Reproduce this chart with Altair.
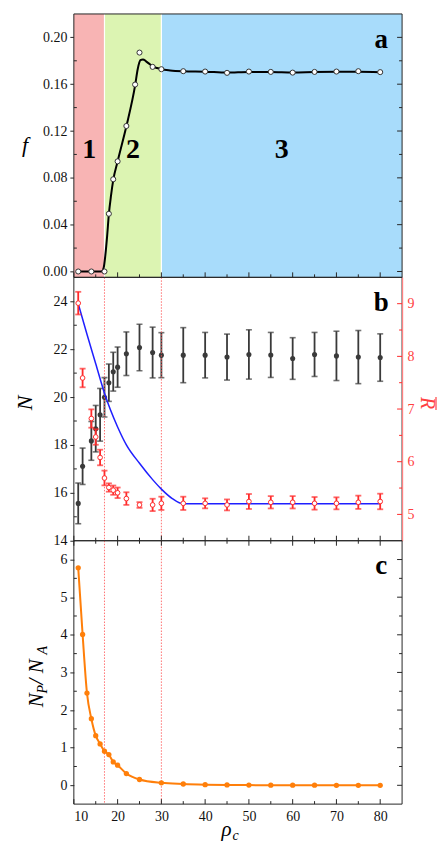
import altair as alt
import pandas as pd

FONT = "Liberation Serif"
W, H = 329, 264
INK = "#262626"
GREY = "#3a3a3a"
RED = "#FF2A2A"
RED_AXIS = "#FF8080"
BLUE = "#1F1FFF"
ORANGE = "#FF7F0A"
REGION_COLORS = ["#F8B4B4", "#DCF4B2", "#A8DCFB"]

# ---------------- data ----------------
region_names = ["1", "2", "3"]
region_start = [10, 17, 30]
region_end = [17, 30, 85]
boundaries = region_end[:-1]

# panel a : f
f_x = [11, 14, 17, 18, 19, 20, 22, 24, 25, 28, 30, 35, 40, 45, 50, 55, 60, 65, 70, 75, 80]
f_val = [0.0, 0.0, 0.0, 0.0493, 0.0788, 0.0941, 0.1243, 0.1597, 0.1870, 0.1748, 0.1728,
         0.1711, 0.1708, 0.1697, 0.1708, 0.1705, 0.1699, 0.1705, 0.1708, 0.1711, 0.1703]
fit_x = [11, 16.3, 16.8, 17.2, 17.6, 18, 18.5, 19, 20, 22, 24, 24.6, 25.2, 25.8, 26.5,
         27.3, 28, 29, 30, 32, 35, 40, 45, 50, 55, 60, 65, 70, 75, 80]
fit_val = [0, 0, 0.003, 0.014, 0.030, 0.049, 0.065, 0.078, 0.094, 0.124, 0.159, 0.173,
           0.1805, 0.1812, 0.1795, 0.1772, 0.1752, 0.1738, 0.1728, 0.1718, 0.1711, 0.1707,
           0.1699, 0.1704, 0.1704, 0.1700, 0.1704, 0.1706, 0.1707, 0.1703]

# panel b : N (left) and R-bar (right)
b_x = [11, 12, 14, 15, 16, 17, 18, 19, 20, 22, 25, 28, 30, 35, 40, 45, 50, 55, 60, 65, 70, 75, 80]
n_mean = [15.56, 17.11, 18.17, 18.68, 19.26, 19.99, 20.60, 21.06, 21.25, 21.81, 22.07, 21.86,
          21.75, 21.75, 21.75, 21.67, 21.78, 21.76, 21.61, 21.78, 21.72, 21.67, 21.65]
n_err = [0.85, 0.76, 0.81, 0.97, 1.10, 0.82, 0.78, 0.81, 0.84, 0.91, 0.97, 1.06, 0.94, 1.15,
         0.95, 0.96, 1.03, 0.94, 0.87, 0.92, 1.03, 1.11, 0.99]
r_mean = [9.01, 7.59, 6.82, 6.47, 6.08, 5.69, 5.51, 5.46, 5.41, 5.30, 5.18, 5.18, 5.21, 5.21,
          5.21, 5.18, 5.245, 5.23, 5.23, 5.21, 5.21, 5.23, 5.245]
r_err = [0.215, 0.177, 0.174, 0.148, 0.148, 0.139, 0.079, 0.088, 0.10, 0.12, 0.054, 0.117,
         0.126, 0.126, 0.095, 0.104, 0.142, 0.117, 0.117, 0.12, 0.114, 0.126, 0.148]
blue_x = [11, 13, 15, 17, 20, 22, 25, 28, 30, 32.5, 35, 80]
blue_r = [9.0, 8.42, 7.86, 7.3, 6.66, 6.32, 5.97, 5.66, 5.48, 5.3, 5.2, 5.2]

# panel c : N_P / N_A
c_x = [11, 12, 13, 14, 15, 16, 17, 18, 19, 20, 22, 25, 30, 35, 40, 45, 50, 55, 60, 65, 70, 75, 80]
c_ratio = [5.78, 4.01, 2.45, 1.77, 1.32, 1.10, 0.905, 0.817, 0.622, 0.534, 0.313, 0.154, 0.065,
           0.035, 0.018, 0.009, 0.005, 0.003, 0.002, 0.002, 0.001, 0.001, 0.001]

# tick values
x_major = [10, 20, 30, 40, 50, 60, 70, 80]
x_minor = [15, 25, 35, 45, 55, 65, 75]
fa_major = [0.0, 0.04, 0.08, 0.12, 0.16, 0.20]
fa_minor = [0.02, 0.06, 0.10, 0.14, 0.18]
n_major = [14, 16, 18, 20, 22, 24]
n_minor = [15, 17, 19, 21, 23]
r_major = [5, 6, 7, 8, 9]
r_minor = [5.5, 6.5, 7.5, 8.5]
c_major = [0, 1, 2, 3, 4, 5, 6]
c_minor = [0.5, 1.5, 2.5, 3.5, 4.5, 5.5]

# ---------------- scales ----------------
xs = alt.Scale(domain=[10, 85], nice=False, zero=False)
ya = alt.Scale(domain=[-0.005, 0.22], nice=False, zero=False)
yn = alt.Scale(domain=[14, 25], nice=False, zero=False)
yr = alt.Scale(domain=[4.5, 9.5], nice=False, zero=False)
yc = alt.Scale(domain=[-0.5, 6.5], nice=False, zero=False)


def left_axis(values, fmt):
    return alt.Axis(values=values, format=fmt, title=None, grid=False, domain=False,
                    ticks=True, tickSize=4, tickColor=INK, tickWidth=1,
                    labelFont=FONT, labelFontSize=14, labelColor="#111111", labelPadding=3)


AX_A = left_axis(fa_major, ".2f")
AX_N = left_axis(n_major, "d")
AX_C = left_axis(c_major, "d")
AX_R = alt.Axis(orient="right", values=r_major, format="d", title=None, grid=False,
                domain=True, domainColor=RED_AXIS, domainWidth=1.2, ticks=False,
                labelFont=FONT, labelFontSize=14, labelColor="#FF4040", labelPadding=5,
                zindex=1)
AX_XC = alt.Axis(values=x_major, format="d", title=None, grid=False, domain=False,
                 ticks=False, labelFont=FONT, labelFontSize=14, labelColor="#111111",
                 labelPadding=5)


def X(field, axis=None):
    return alt.X(field, type="quantitative", scale=xs, axis=axis)


def Y(field, scale, axis):
    return alt.Y(field, type="quantitative", scale=scale, axis=axis)


def xt(values, length, side, axis=None, color=INK):
    d = pd.DataFrame({"v": values})
    if side == "bottom":
        yy = dict(y=alt.value(H), y2=alt.value(H - length))
    else:
        yy = dict(y=alt.value(0), y2=alt.value(length))
    return alt.Chart(d).mark_rule(color=color, strokeWidth=1).encode(x=X("v", axis), **yy)


def yt(values, scale, axis, length, side, color=INK):
    d = pd.DataFrame({"v": values})
    if side == "right":
        xx = dict(x=alt.value(W), x2=alt.value(W - length))
    else:
        xx = dict(x=alt.value(0), x2=alt.value(length))
    return alt.Chart(d).mark_rule(color=color, strokeWidth=1).encode(
        y=Y("v", scale, axis), **xx)


def txt(text, x, y, size, **kw):
    props = dict(font=FONT, fontSize=size)
    props.update(kw)
    return alt.Chart(pd.DataFrame({"t": [text]})).mark_text(**props).encode(
        text="t:N", x=alt.value(x), y=alt.value(y))


def frame():
    return alt.Chart(pd.DataFrame({"k": [0]})).mark_rect(
        fillOpacity=0, stroke=INK, strokeWidth=1).encode(
        x=alt.value(0), x2=alt.value(W), y=alt.value(0), y2=alt.value(H))


df_reg = pd.DataFrame({"name": region_names, "start": region_start, "end": region_end})
df_bounds = pd.DataFrame({"b": boundaries})

# ---------------- panel a ----------------
regions = alt.Chart(df_reg).mark_rect().encode(
    x=X("start"), x2="end", y=alt.value(0), y2=alt.value(H),
    color=alt.Color("name:N", scale=alt.Scale(domain=region_names, range=REGION_COLORS),
                    legend=None))
white_lines = alt.Chart(df_bounds).mark_rule(color="white", strokeWidth=1.2).encode(x=X("b"))
region_text = alt.Chart(df_reg).transform_calculate(
    mid="(datum.start + datum.end) / 2").mark_text(
    font=FONT, fontSize=28, fontWeight="bold", color="black", baseline="middle").encode(
    x=X("mid"), y=alt.value(136), text="name:N")
curve = alt.Chart(pd.DataFrame({"x": fit_x, "f": fit_val})).mark_line(
    color="black", strokeWidth=2, interpolate="monotone").encode(
    x=X("x"), y=Y("f", ya, AX_A))
f_pts = alt.Chart(pd.DataFrame({"x": f_x, "f": f_val})).mark_point(
    filled=True, color="white", stroke="#333333", strokeWidth=1, size=26, opacity=1).encode(
    x=X("x"), y=Y("f", ya, AX_A))

panel_a = alt.layer(
    regions, white_lines, curve, f_pts, region_text,
    xt(x_major, 5, "bottom"), xt(x_minor, 3, "bottom"),
    yt(fa_major, ya, AX_A, 5, "right"), yt(fa_minor, ya, AX_A, 3, "right"),
    yt(fa_minor, ya, AX_A, 3, "left"),
    txt("a", 308, 26, 27, fontWeight="bold", baseline="middle"),
    txt("f", -49, 131, 22, fontStyle="italic", baseline="middle"),
    frame(),
).properties(width=W, height=H)

# ---------------- panel b ----------------
df_b = pd.DataFrame({"x": b_x, "n": n_mean, "ne": n_err, "r": r_mean, "re": r_err})
df_b["n_lo"] = df_b["n"] - df_b["ne"]
df_b["n_hi"] = df_b["n"] + df_b["ne"]
df_b["r_lo"] = df_b["r"] - df_b["re"]
df_b["r_hi"] = df_b["r"] + df_b["re"]
base_b = alt.Chart(df_b)

n_bars = base_b.mark_rule(color=GREY, strokeWidth=1.8).encode(
    x=X("x"), y=Y("n_lo", yn, AX_N), y2="n_hi:Q")
n_cap_lo = base_b.mark_tick(orient="horizontal", size=6, thickness=1.6, color=GREY).encode(
    x=X("x"), y=Y("n_lo", yn, AX_N))
n_cap_hi = base_b.mark_tick(orient="horizontal", size=6, thickness=1.6, color=GREY).encode(
    x=X("x"), y=Y("n_hi", yn, AX_N))
n_pts = base_b.mark_circle(size=26, color=GREY, opacity=1).encode(
    x=X("x"), y=Y("n", yn, AX_N))
vlines_b = alt.Chart(df_bounds).mark_rule(
    color="#FF5A5A", strokeWidth=1, strokeDash=[1.5, 1.5], opacity=0.85).encode(x=X("b"))

left_group = alt.layer(
    n_bars, n_cap_lo, n_cap_hi, n_pts, vlines_b,
    xt(x_major, 5, "bottom"), xt(x_minor, 3, "bottom"),
    yt(n_minor, yn, AX_N, 3, "left"),
)

blue = alt.Chart(pd.DataFrame({"x": blue_x, "r": blue_r})).mark_line(
    color=BLUE, strokeWidth=1.5, interpolate="monotone").encode(
    x=X("x"), y=Y("r", yr, AX_R))
r_bars = base_b.mark_rule(color=RED, strokeWidth=1.8).encode(
    x=X("x"), y=Y("r_lo", yr, AX_R), y2="r_hi:Q")
r_cap_lo = base_b.mark_tick(orient="horizontal", size=6, thickness=1.8, color=RED).encode(
    x=X("x"), y=Y("r_lo", yr, AX_R))
r_cap_hi = base_b.mark_tick(orient="horizontal", size=6, thickness=1.8, color=RED).encode(
    x=X("x"), y=Y("r_hi", yr, AX_R))
r_pts = base_b.mark_point(filled=True, color="white", stroke=RED, strokeWidth=1,
                          size=22, opacity=1).encode(
    x=X("x"), y=Y("r", yr, AX_R))

right_group = alt.layer(
    blue, r_bars, r_cap_lo, r_cap_hi, r_pts,
    yt(r_major, yr, AX_R, 5, "right", RED), yt(r_minor, yr, AX_R, 3, "right", RED),
)

# overbar of the R-bar title (drawn as a short line beside the rotated "R")
r_overbar = alt.Chart(pd.DataFrame({"k": [0]})).mark_rule(
    color="#FF4040", strokeWidth=1.2).encode(
    x=alt.value(363), y=alt.value(120), y2=alt.value(133))

deco_b = alt.layer(
    frame(),
    txt("b", 308, 26, 27, fontWeight="bold", baseline="middle"),
    txt("N", -49, 126, 22, fontStyle="italic", baseline="middle", align="center", angle=270),
    txt("R", 354, 126, 20, fontStyle="italic", baseline="middle", align="center",
        angle=90, color="#FF4040"),
    r_overbar,
)

panel_b = alt.layer(left_group, deco_b, right_group).resolve_scale(
    y="independent").properties(width=W, height=H)

# ---------------- panel c ----------------
df_c = pd.DataFrame({"x": c_x, "v": c_ratio})
c_line = alt.Chart(df_c).mark_line(color=ORANGE, strokeWidth=2, interpolate="monotone").encode(
    x=X("x", AX_XC), y=Y("v", yc, AX_C))
c_pts = alt.Chart(df_c).mark_circle(size=28, color=ORANGE, opacity=1).encode(
    x=X("x", AX_XC), y=Y("v", yc, AX_C))
vlines_c = alt.Chart(df_bounds).mark_rule(
    color="#FF5A5A", strokeWidth=1, strokeDash=[1.5, 1.5], opacity=0.85).encode(
    x=X("b", AX_XC))
anchor = alt.Chart(pd.DataFrame({"k": [0]})).mark_rule(strokeOpacity=0).encode(
    x=alt.value(-66), y=alt.value(0), y2=alt.value(10))

panel_c = alt.layer(
    vlines_c, c_line, c_pts,
    xt(x_major, 5, "bottom", AX_XC), xt(x_minor, 3, "bottom", AX_XC),
    xt(x_major, 5, "top", AX_XC), xt(x_minor, 3, "top", AX_XC),
    yt(c_major, yc, AX_C, 5, "right"), yt(c_minor, yc, AX_C, 3, "right"),
    yt(c_minor, yc, AX_C, 3, "left"),
    txt("c", 308, 25, 27, fontWeight="bold", baseline="middle"),
    txt("N", -31, 167, 21, fontStyle="italic", angle=270, align="left", baseline="alphabetic"),
    txt("P", -27, 153, 14, fontStyle="italic", angle=270, align="left", baseline="alphabetic"),
    txt(" / N", -31, 144, 21, fontStyle="italic", angle=270, align="left", baseline="alphabetic"),
    txt("A", -27, 114, 14, fontStyle="italic", angle=270, align="left", baseline="alphabetic"),
    txt("\u03c1", 148, 296, 21, fontStyle="italic", align="left", baseline="alphabetic"),
    txt("c", 159, 300, 14, fontStyle="italic", align="left", baseline="alphabetic"),
    anchor,
    frame(),
).properties(width=W, height=H)

chart = alt.vconcat(panel_a, panel_b, panel_c, spacing=0, bounds="flush").properties(
    padding={"left": 0, "top": 4, "right": 0, "bottom": 0}
).configure_view(stroke=None).configure_axis(grid=False)

chart.save("out.html", embed_options={"renderer": "svg", "actions": False})
